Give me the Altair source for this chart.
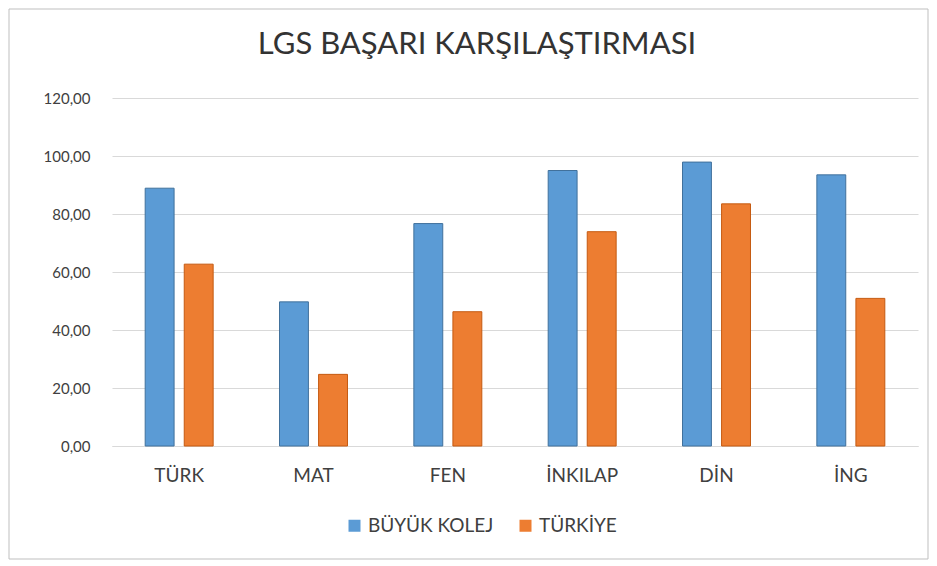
import altair as alt
import pandas as pd

categories = ["TÜRK", "MAT", "FEN", "İNKILAP", "DİN", "İNG"]
series = ["BÜYÜK KOLEJ", "TÜRKİYE"]
buyuk_kolej = [88.9, 49.7, 76.7, 95.0, 97.9, 93.5]
turkiye = [62.7, 24.7, 46.3, 73.9, 83.5, 50.9]
y_ticks = [0, 20, 40, 60, 80, 100, 120]

rows = []
for c, a, b in zip(categories, buyuk_kolej, turkiye):
    rows.append({"ders": c, "seri": series[0], "deger": a})
    rows.append({"ders": c, "seri": series[1], "deger": b})
df = pd.DataFrame(rows)

FONT = "Lato"
TXT = "#404040"

bars = alt.Chart(df).mark_bar(strokeWidth=1).encode(
    x=alt.X("ders:N", sort=categories,
            scale=alt.Scale(paddingInner=0.494, paddingOuter=0.247),
            axis=alt.Axis(title=None, labelAngle=0, ticks=False, domain=True,
                          domainColor="#d9d9d9", labelPadding=20, labelFontSize=19,
                          labelColor=TXT, labelFont=FONT, grid=False)),
    xOffset=alt.XOffset("seri:N", sort=series,
                        scale=alt.Scale(paddingInner=0.26, paddingOuter=0)),
    y=alt.Y("deger:Q", scale=alt.Scale(domain=[0, 120], nice=False),
            axis=alt.Axis(title=None, values=y_ticks, ticks=False, domain=False,
                          labelExpr="replace(format(datum.value, '.2f'), '.', ',')",
                          labelPadding=22, labelFontSize=15, labelColor=TXT,
                          labelFont=FONT, gridColor="#d9d9d9", gridWidth=1)),
    color=alt.Color("seri:N", sort=series,
                    scale=alt.Scale(domain=series, range=["#5B9BD5", "#ED7D31"]),
                    legend=alt.Legend(title=None, orient="none", direction="horizontal",
                                      legendX=233, legendY=418, symbolType="square",
                                      symbolSize=144, labelFontSize=19, labelColor=TXT,
                                      labelFont=FONT, columnPadding=22, labelOffset=4,
                                      symbolStrokeWidth=0)),
    stroke=alt.Stroke("seri:N", sort=series,
                      scale=alt.Scale(domain=series, range=["#41719C", "#C55A11"]),
                      legend=None),
)

border = alt.Chart(pd.DataFrame({"a": [0]})).mark_rect(
    fill=None, stroke="#bfbfbf", strokeWidth=1
).encode(x=alt.value(-103), x2=alt.value(816), y=alt.value(-89), y2=alt.value(461))

chart = alt.layer(bars, border).properties(
    width=806, height=348,
    title=alt.Title("LGS BAŞARI KARŞILAŞTIRMASI", fontSize=31, font=FONT,
                    fontWeight="normal", color="#333333", anchor="middle",
                    frame="group", dx=-38, offset=-76, baseline="alphabetic"),
    autosize=alt.AutoSizeParams(type="none"),
    padding={"left": 104, "top": 90, "right": 11, "bottom": 114},
).configure_view(stroke=None)

chart.save("out.html", embed_options={"renderer": "svg", "actions": False})
